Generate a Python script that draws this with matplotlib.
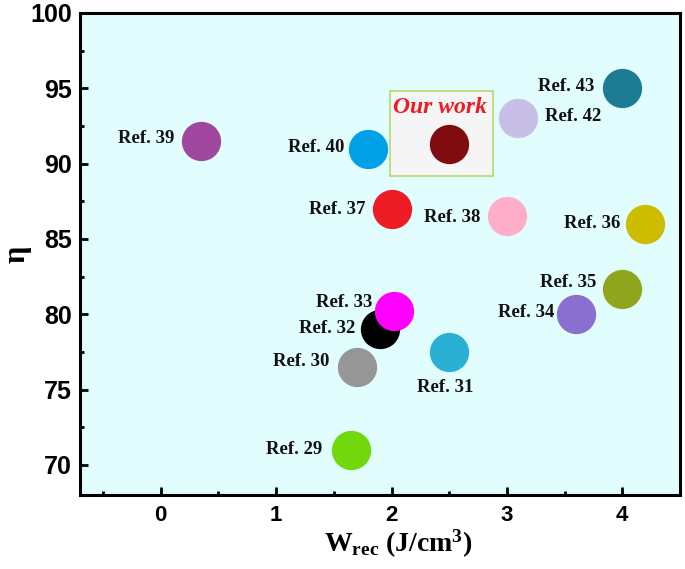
import matplotlib
matplotlib.use("Agg")
import matplotlib.pyplot as plt
from matplotlib.patches import Rectangle
from matplotlib.ticker import MultipleLocator

plt.rcParams['mathtext.fontset'] = 'custom'
plt.rcParams['mathtext.rm'] = 'Liberation Serif:bold'
plt.rcParams['mathtext.it'] = 'Liberation Serif:bold'
plt.rcParams['mathtext.bf'] = 'Liberation Serif:bold'

labels = ["Ref. 39", "Ref. 40", "Ref. 43", "Ref. 42", "Ref. 37", "Ref. 38", "Ref. 36",
          "Ref. 35", "Ref. 34", "Ref. 33", "Ref. 32", "Ref. 30", "Ref. 31", "Ref. 29"]
w_rec = [0.35, 1.80, 4.00, 3.10, 2.00, 3.00, 4.20, 4.00, 3.60, 2.02, 1.90, 1.70, 2.50, 1.65]
eta = [91.5, 91.0, 95.0, 93.0, 87.0, 86.5, 86.0, 81.7, 80.0, 80.2, 79.0, 76.5, 77.5, 71.0]
colors = ["#a0479f", "#00a0e6", "#1e7b94", "#c8bfe7", "#ed1c24", "#ffaec9", "#cdbd00",
          "#8fa61c", "#8a6fcf", "#ff00ff", "#000000", "#969696", "#2ab0d4", "#71d90b"]
# label offsets (pixels) relative to marker
offsets = [(-55, 3), (-52, 1), (-56, 2), (55, 2), (-54, -1), (-55, -1), (-53, 0),
           (-54, 6), (-50, 2), (-50, 9), (-53, 1), (-56, 5), (-4, -36), (-57, 0)]

our_w = 2.5
our_eta = 91.3
our_color = "#800c10"

fig = plt.figure(figsize=(6.85, 5.69), dpi=100)
ax = fig.add_axes([80/685, 1-495/569, 600/685, 482/569])
ax.set_facecolor("#e2fdfd")

# Our work box
ax.add_patch(Rectangle((1.99, 89.2), 0.89, 5.6, facecolor="#f5f5f5",
                       edgecolor="#b5d96b", linewidth=1.2, zorder=1))
ax.text(2.42, 93.7, "Our work", color="#ed1c24", fontsize=17, fontweight='bold',
        fontstyle='italic', family='Liberation Serif', ha='center', va='center', zorder=3)

# draw order: 32 before 33
order = [0, 1, 2, 3, 4, 5, 6, 7, 8, 10, 9, 11, 12, 13]
for i in order:
    ax.scatter(w_rec[i], eta[i], s=800, color=colors[i], linewidths=0, zorder=2)
ax.scatter(our_w, our_eta, s=800, color=our_color, linewidths=0, zorder=2)

for i, lab in enumerate(labels):
    ax.annotate(lab, (w_rec[i], eta[i]), xytext=offsets[i], textcoords='offset pixels',
                ha='center', va='center', fontsize=13.5, fontweight='bold',
                family='Liberation Serif', color='#111111', zorder=3)

ax.set_xlim(-0.7, 4.5)
ax.set_ylim(68, 100)
ax.xaxis.set_major_locator(MultipleLocator(1))
ax.xaxis.set_minor_locator(MultipleLocator(0.5))
ax.yaxis.set_major_locator(MultipleLocator(5))
ax.yaxis.set_minor_locator(MultipleLocator(2.5))
ax.tick_params(which='both', direction='in', width=2, top=False, right=False)
ax.tick_params(which='major', length=6)
ax.tick_params(which='minor', length=3)
ax.tick_params(axis='y', labelsize=18, pad=6)
ax.tick_params(axis='x', labelsize=16, pad=7)
for lab in ax.get_xticklabels() + ax.get_yticklabels():
    lab.set_fontweight('bold')
    lab.set_family('Liberation Sans')
for sp in ax.spines.values():
    sp.set_linewidth(2.2)

ax.set_xlabel(r"$\mathrm{W_{rec}}$ (J/cm$^{3}$)", fontsize=20, fontweight='bold',
              family='Liberation Serif', va='center')
ax.xaxis.set_label_coords(0.53, -0.102)
ax.set_ylabel("η", fontsize=22, fontweight='bold', family='Liberation Serif',
              va='center')
ax.yaxis.set_label_coords(-0.105, 0.5)

fig.savefig("out.png", dpi=100)
